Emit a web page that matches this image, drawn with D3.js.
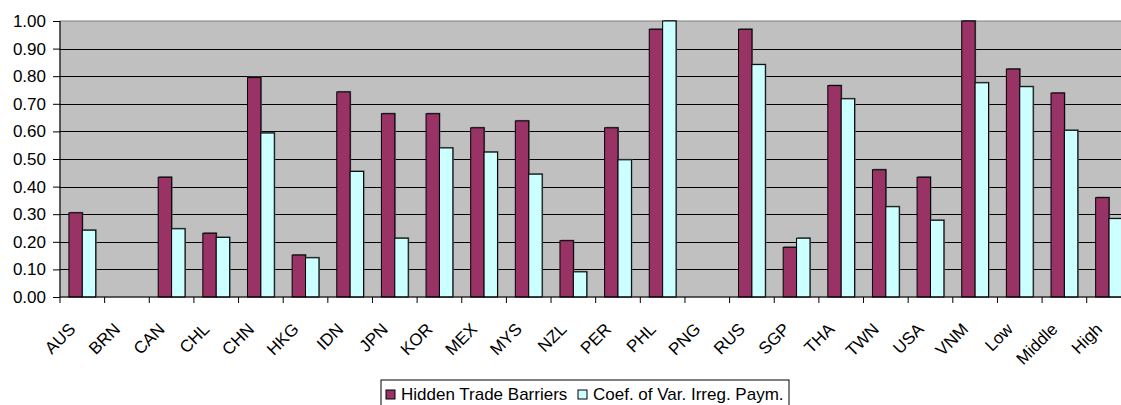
<!DOCTYPE html>
<html>
<head>
<meta charset="utf-8">
<script src="https://cdn.jsdelivr.net/npm/d3@7"></script>
<style>
  body { margin: 0; background: #fff; }
  svg { display: block; font-family: "Liberation Sans", Arial, sans-serif; }
</style>
</head>
<body>
<div class="chart"></div>
<script>
// data
const categories = ['AUS', 'BRN', 'CAN', 'CHL', 'CHN', 'HKG', 'IDN', 'JPN', 'KOR', 'MEX', 'MYS', 'NZL',
  'PER', 'PHL', 'PNG', 'RUS', 'SGP', 'THA', 'TWN', 'USA', 'VNM', 'Low', 'Middle', 'High'];
const hiddenTradeBarriers = [0.305, null, 0.434, 0.231, 0.795, 0.152, 0.743, 0.664, 0.664, 0.613, 0.638, 0.204,
  0.613, 0.97, null, 0.97, 0.18, 0.766, 0.461, 0.434, 1.0, 0.826, 0.739, 0.36];
const coefVarIrregPaym = [0.242, null, 0.247, 0.216, 0.594, 0.142, 0.455, 0.213, 0.54, 0.525, 0.445, 0.091,
  0.497, 1.0, null, 0.842, 0.213, 0.718, 0.327, 0.278, 0.776, 0.762, 0.604, 0.284];
const seriesNames = ['Hidden Trade Barriers', 'Coef. of Var. Irreg. Paym.'];
const yTicks = [0, 0.1, 0.2, 0.3, 0.4, 0.5, 0.6, 0.7, 0.8, 0.9, 1.0];

const colors = ['#993366', '#CCFFFF'];
const W = 1121, H = 405;
const plotLeft = 60, plotTop = 21, plotBottom = 297;
const step = 44.64;
// plot runs a little past the right edge of the picture (High is cut off)
const plotRight = plotLeft + step * categories.length;

const rows = categories.map((c, i) => ({ cat: c, vals: [hiddenTradeBarriers[i], coefVarIrregPaym[i]] }));

const svg = d3.select('.chart').append('svg')
  .attr('width', W)
  .attr('height', H);

const x = d3.scaleBand()
  .domain(categories)
  .range([plotLeft, plotRight])
  .paddingInner(0.4)
  .paddingOuter(0.2);

const xSub = d3.scaleBand()
  .domain([0, 1])
  .range([0, x.bandwidth()]);

const y = d3.scaleLinear()
  .domain([0, 1])
  .range([plotBottom, plotTop]);

// plot background
svg.append('rect')
  .attr('x', plotLeft)
  .attr('y', plotTop)
  .attr('width', plotRight - plotLeft)
  .attr('height', plotBottom - plotTop)
  .attr('fill', '#C0C0C0')
  .attr('stroke', '#808080');

// gridlines
const grid = svg.append('g')
  .attr('transform', `translate(${plotLeft},0)`)
  .call(d3.axisLeft(y).tickValues(yTicks.slice(1, -1)).tickSize(-(plotRight - plotLeft)).tickFormat(''));
grid.select('.domain').remove();
grid.selectAll('line').attr('stroke', '#000').attr('shape-rendering', 'crispEdges');

// bars
const groups = svg.append('g').selectAll('g')
  .data(rows)
  .join('g')
  .attr('transform', d => `translate(${x(d.cat)},0)`);

const barData = d => d.vals.map((v, k) => ({ v, k })).filter(b => b.v != null);

// small shadow behind each bar
groups.selectAll('rect.shadow')
  .data(barData)
  .join('rect')
  .attr('class', 'shadow')
  .attr('x', b => xSub(b.k) + 1)
  .attr('y', b => y(b.v) - 1)
  .attr('width', xSub.bandwidth())
  .attr('height', b => y(0) - y(b.v))
  .attr('fill', '#5f6b6b');

groups.selectAll('rect.bar')
  .data(barData)
  .join('rect')
  .attr('class', 'bar')
  .attr('x', b => xSub(b.k))
  .attr('y', b => y(b.v))
  .attr('width', xSub.bandwidth())
  .attr('height', b => y(0) - y(b.v))
  .attr('fill', b => colors[b.k])
  .attr('stroke', '#000')
  .attr('stroke-width', 1);

// y axis
const yAxis = svg.append('g')
  .attr('transform', `translate(${plotLeft},0)`)
  .call(d3.axisLeft(y).tickValues(yTicks).tickFormat(d3.format('.2f')).tickSize(7).tickPadding(7));
yAxis.select('.domain').attr('stroke', '#000').attr('d', `M0,${plotTop}V${plotBottom}`);
yAxis.selectAll('line').attr('stroke', '#000');
yAxis.selectAll('text').attr('font-size', 17).attr('fill', '#000')
  .attr('font-family', '"Liberation Sans", Arial, sans-serif');

// x axis: line, boundary ticks, rotated labels
const xAxisG = svg.append('g');
xAxisG.append('line')
  .attr('x1', plotLeft).attr('x2', plotRight)
  .attr('y1', plotBottom).attr('y2', plotBottom)
  .attr('stroke', '#000');
const boundaries = categories.map(c => x(c) - (x.step() - x.bandwidth()) / 2);
xAxisG.selectAll('line.tick')
  .data(boundaries)
  .join('line')
  .attr('class', 'tick')
  .attr('x1', d => d).attr('x2', d => d)
  .attr('y1', plotBottom).attr('y2', plotBottom + 6)
  .attr('stroke', '#000');

const labels = svg.append('g')
  .attr('transform', `translate(0,${plotBottom})`)
  .call(d3.axisBottom(x).tickSize(0).tickPadding(0));
labels.select('.domain').remove();
labels.selectAll('text')
  .attr('font-size', 17)
  .attr('fill', '#000')
  .attr('font-family', '"Liberation Sans", Arial, sans-serif')
  .attr('text-anchor', 'end')
  .attr('dy', '0.35em')
  .attr('transform', 'translate(-10,29) rotate(-45)');

// legend
const legend = svg.append('g').attr('transform', 'translate(381,380)');
legend.append('rect')
  .attr('x', 0).attr('y', 0)
  .attr('width', 408).attr('height', 30)
  .attr('fill', '#fff')
  .attr('stroke', '#000');
const legendX = [5, 197];
seriesNames.forEach((name, k) => {
  legend.append('rect')
    .attr('x', legendX[k]).attr('y', 10)
    .attr('width', 9).attr('height', 9)
    .attr('fill', colors[k])
    .attr('stroke', '#000');
  legend.append('text')
    .attr('x', legendX[k] + 15)
    .attr('y', 20)
    .attr('font-size', 17)
    .text(name);
});
</script>
</body>
</html>
